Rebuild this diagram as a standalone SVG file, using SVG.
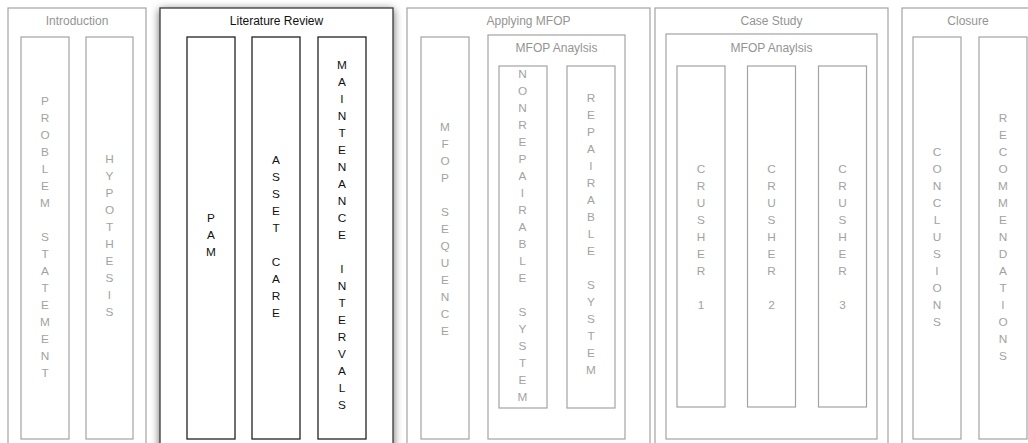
<svg xmlns="http://www.w3.org/2000/svg" width="1028" height="443" viewBox="0 0 1028 443">
<style>
.bg{fill:#ffffff}
.g{fill:#ffffff;stroke:#a3a3a3;stroke-width:1.2}
.k{fill:#ffffff;stroke:#222222;stroke-width:1.3}
.kout{fill:#ffffff;stroke:#3a3a3a;stroke-width:1.3}
.tg{font-family:"Liberation Sans",Arial,sans-serif;font-size:11.8px;fill:#a2a2a2;text-anchor:middle}
.tk{font-family:"Liberation Sans",Arial,sans-serif;font-size:11.8px;fill:#111111;text-anchor:middle}
.hg{font-family:"Liberation Sans",Arial,sans-serif;font-size:12px;fill:#949494;text-anchor:middle}
.hk{font-family:"Liberation Sans",Arial,sans-serif;font-size:12px;fill:#111111;text-anchor:middle}
</style>
<defs>
<filter id="sh" x="-20%" y="-10%" width="140%" height="120%">
<feDropShadow dx="0" dy="2" stdDeviation="4" flood-color="#000000" flood-opacity="0.6"/>
</filter>
</defs>
<rect class="bg" x="0" y="0" width="1028" height="443"/>

<g id="introduction">
<rect class="g" x="8" y="8" width="138" height="450"/>
<text class="hg" x="77" y="25">Introduction</text>
<g id="problem-statement">
<rect class="g" x="21" y="37" width="48" height="402"/>
<text class="tg" y="105"><tspan x="45">P</tspan><tspan x="45" dy="17">R</tspan><tspan x="45" dy="17">O</tspan><tspan x="45" dy="17">B</tspan><tspan x="45" dy="17">L</tspan><tspan x="45" dy="17">E</tspan><tspan x="45" dy="17">M</tspan><tspan x="45" dy="34">S</tspan><tspan x="45" dy="17">T</tspan><tspan x="45" dy="17">A</tspan><tspan x="45" dy="17">T</tspan><tspan x="45" dy="17">E</tspan><tspan x="45" dy="17">M</tspan><tspan x="45" dy="17">E</tspan><tspan x="45" dy="17">N</tspan><tspan x="45" dy="17">T</tspan></text>
</g>
<g id="hypothesis">
<rect class="g" x="86" y="37" width="47" height="402"/>
<text class="tg" y="163"><tspan x="109.5">H</tspan><tspan x="109.5" dy="17">Y</tspan><tspan x="109.5" dy="17">P</tspan><tspan x="109.5" dy="17">O</tspan><tspan x="109.5" dy="17">T</tspan><tspan x="109.5" dy="17">H</tspan><tspan x="109.5" dy="17">E</tspan><tspan x="109.5" dy="17">S</tspan><tspan x="109.5" dy="17">I</tspan><tspan x="109.5" dy="17">S</tspan></text>
</g>
</g>

<g id="literature-review">
<rect class="kout" x="160" y="8" width="233" height="450" filter="url(#sh)"/>
<text class="hk" x="276.5" y="25">Literature Review</text>
<g id="pam">
<rect class="k" x="187" y="37" width="48" height="402"/>
<text class="tk" y="222"><tspan x="211">P</tspan><tspan x="211" dy="17">A</tspan><tspan x="211" dy="17">M</tspan></text>
</g>
<g id="asset-care">
<rect class="k" x="252" y="37" width="48" height="402"/>
<text class="tk" y="164"><tspan x="276">A</tspan><tspan x="276" dy="17">S</tspan><tspan x="276" dy="17">S</tspan><tspan x="276" dy="17">E</tspan><tspan x="276" dy="17">T</tspan><tspan x="276" dy="34">C</tspan><tspan x="276" dy="17">A</tspan><tspan x="276" dy="17">R</tspan><tspan x="276" dy="17">E</tspan></text>
</g>
<g id="maintenance-intervals">
<rect class="k" x="318" y="37" width="48" height="402"/>
<text class="tk" y="69"><tspan x="342">M</tspan><tspan x="342" dy="17">A</tspan><tspan x="342" dy="17">I</tspan><tspan x="342" dy="17">N</tspan><tspan x="342" dy="17">T</tspan><tspan x="342" dy="17">E</tspan><tspan x="342" dy="17">N</tspan><tspan x="342" dy="17">A</tspan><tspan x="342" dy="17">N</tspan><tspan x="342" dy="17">C</tspan><tspan x="342" dy="17">E</tspan><tspan x="342" dy="34">I</tspan><tspan x="342" dy="17">N</tspan><tspan x="342" dy="17">T</tspan><tspan x="342" dy="17">E</tspan><tspan x="342" dy="17">R</tspan><tspan x="342" dy="17">V</tspan><tspan x="342" dy="17">A</tspan><tspan x="342" dy="17">L</tspan><tspan x="342" dy="17">S</tspan></text>
</g>
</g>

<g id="applying-mfop">
<rect class="g" x="407" y="8" width="243" height="450"/>
<text class="hg" x="528.5" y="25">Applying MFOP</text>
<g id="mfop-sequence">
<rect class="g" x="421" y="37" width="48" height="402"/>
<text class="tg" y="131"><tspan x="445">M</tspan><tspan x="445" dy="17">F</tspan><tspan x="445" dy="17">O</tspan><tspan x="445" dy="17">P</tspan><tspan x="445" dy="34">S</tspan><tspan x="445" dy="17">E</tspan><tspan x="445" dy="17">Q</tspan><tspan x="445" dy="17">U</tspan><tspan x="445" dy="17">E</tspan><tspan x="445" dy="17">N</tspan><tspan x="445" dy="17">C</tspan><tspan x="445" dy="17">E</tspan></text>
</g>
<g id="mfop-analysis-1">
<rect class="g" x="488" y="35" width="137" height="404"/>
<text class="hg" x="556.5" y="52">MFOP Anaylsis</text>
<g id="nonrepairable-system">
<rect class="g" x="499" y="66" width="48" height="342"/>
<text class="tg" y="78"><tspan x="522.5">N</tspan><tspan x="522.5" dy="17">O</tspan><tspan x="522.5" dy="17">N</tspan><tspan x="522.5" dy="17">R</tspan><tspan x="522.5" dy="17">E</tspan><tspan x="522.5" dy="17">P</tspan><tspan x="522.5" dy="17">A</tspan><tspan x="522.5" dy="17">I</tspan><tspan x="522.5" dy="17">R</tspan><tspan x="522.5" dy="17">A</tspan><tspan x="522.5" dy="17">B</tspan><tspan x="522.5" dy="17">L</tspan><tspan x="522.5" dy="17">E</tspan><tspan x="522.5" dy="34">S</tspan><tspan x="522.5" dy="17">Y</tspan><tspan x="522.5" dy="17">S</tspan><tspan x="522.5" dy="17">T</tspan><tspan x="522.5" dy="17">E</tspan><tspan x="522.5" dy="17">M</tspan></text>
</g>
<g id="repairable-system">
<rect class="g" x="567" y="66" width="48" height="342"/>
<text class="tg" y="102"><tspan x="591">R</tspan><tspan x="591" dy="17">E</tspan><tspan x="591" dy="17">P</tspan><tspan x="591" dy="17">A</tspan><tspan x="591" dy="17">I</tspan><tspan x="591" dy="17">R</tspan><tspan x="591" dy="17">A</tspan><tspan x="591" dy="17">B</tspan><tspan x="591" dy="17">L</tspan><tspan x="591" dy="17">E</tspan><tspan x="591" dy="34">S</tspan><tspan x="591" dy="17">Y</tspan><tspan x="591" dy="17">S</tspan><tspan x="591" dy="17">T</tspan><tspan x="591" dy="17">E</tspan><tspan x="591" dy="17">M</tspan></text>
</g>
</g>
</g>

<g id="case-study">
<rect class="g" x="655" y="8" width="233" height="450"/>
<text class="hg" x="771.5" y="25">Case Study</text>
<g id="mfop-analysis-2">
<rect class="g" x="666" y="34" width="211" height="405"/>
<text class="hg" x="771.5" y="52">MFOP Anaylsis</text>
<g id="crusher-1">
<rect class="g" x="677" y="66" width="48" height="341"/>
<text class="tg" y="173"><tspan x="701">C</tspan><tspan x="701" dy="17">R</tspan><tspan x="701" dy="17">U</tspan><tspan x="701" dy="17">S</tspan><tspan x="701" dy="17">H</tspan><tspan x="701" dy="17">E</tspan><tspan x="701" dy="17">R</tspan><tspan x="701" dy="34">1</tspan></text>
</g>
<g id="crusher-2">
<rect class="g" x="747.5" y="66" width="48" height="341"/>
<text class="tg" y="173"><tspan x="771.5">C</tspan><tspan x="771.5" dy="17">R</tspan><tspan x="771.5" dy="17">U</tspan><tspan x="771.5" dy="17">S</tspan><tspan x="771.5" dy="17">H</tspan><tspan x="771.5" dy="17">E</tspan><tspan x="771.5" dy="17">R</tspan><tspan x="771.5" dy="34">2</tspan></text>
</g>
<g id="crusher-3">
<rect class="g" x="818.5" y="66" width="48" height="341"/>
<text class="tg" y="173"><tspan x="842.5">C</tspan><tspan x="842.5" dy="17">R</tspan><tspan x="842.5" dy="17">U</tspan><tspan x="842.5" dy="17">S</tspan><tspan x="842.5" dy="17">H</tspan><tspan x="842.5" dy="17">E</tspan><tspan x="842.5" dy="17">R</tspan><tspan x="842.5" dy="34">3</tspan></text>
</g>
</g>
</g>

<g id="closure">
<rect class="g" x="902" y="8" width="136" height="450"/>
<text class="hg" x="968" y="25">Closure</text>
<g id="conclusions">
<rect class="g" x="913" y="37" width="48" height="402"/>
<text class="tg" y="156"><tspan x="937">C</tspan><tspan x="937" dy="17">O</tspan><tspan x="937" dy="17">N</tspan><tspan x="937" dy="17">C</tspan><tspan x="937" dy="17">L</tspan><tspan x="937" dy="17">U</tspan><tspan x="937" dy="17">S</tspan><tspan x="937" dy="17">I</tspan><tspan x="937" dy="17">O</tspan><tspan x="937" dy="17">N</tspan><tspan x="937" dy="17">S</tspan></text>
</g>
<g id="recommendations">
<rect class="g" x="979" y="37" width="48" height="402"/>
<text class="tg" y="122"><tspan x="1003">R</tspan><tspan x="1003" dy="17">E</tspan><tspan x="1003" dy="17">C</tspan><tspan x="1003" dy="17">O</tspan><tspan x="1003" dy="17">M</tspan><tspan x="1003" dy="17">M</tspan><tspan x="1003" dy="17">E</tspan><tspan x="1003" dy="17">N</tspan><tspan x="1003" dy="17">D</tspan><tspan x="1003" dy="17">A</tspan><tspan x="1003" dy="17">T</tspan><tspan x="1003" dy="17">I</tspan><tspan x="1003" dy="17">O</tspan><tspan x="1003" dy="17">N</tspan><tspan x="1003" dy="17">S</tspan></text>
</g>
</g>

<g id="connectors"></g>
</svg>
